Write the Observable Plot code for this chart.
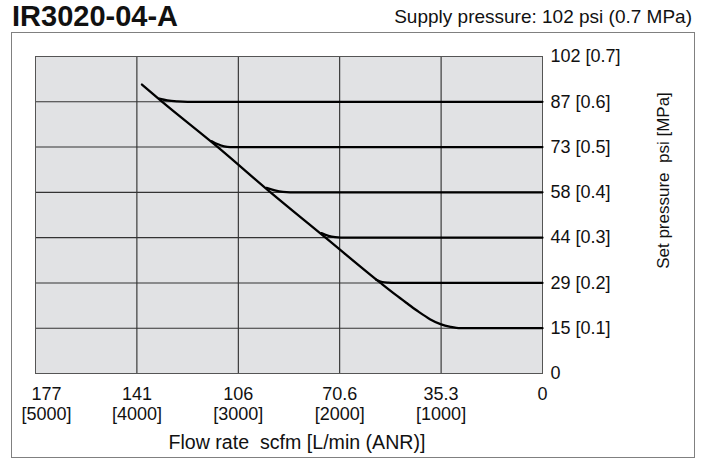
<!DOCTYPE html>
<html><head><meta charset="utf-8">
<script src="https://cdn.jsdelivr.net/npm/d3@7"></script>
<script src="https://cdn.jsdelivr.net/npm/@observablehq/plot@0.6"></script>
<style>
body{margin:0;background:#fff;font-family:"Liberation Sans",Arial,Helvetica,sans-serif;}
#fig{position:relative;width:705px;height:460px;}
#title{position:absolute;left:12px;top:0;font-weight:bold;font-size:29px;line-height:normal;color:#111;white-space:nowrap;}
#supply{position:absolute;right:13px;top:6px;font-size:19px;line-height:normal;color:#111;white-space:nowrap;}
#chart{position:absolute;left:11px;top:32px;border:1px solid #808080;width:682px;height:424px;}
#chart svg{display:block;}
#chart svg text{white-space:pre;}
</style></head>
<body>
<div id="fig">
  <div id="title">IR3020-04-A</div>
  <div id="supply">Supply pressure: 102 psi (0.7 MPa)</div>
  <div id="chart"></div>
</div>
<script>
// ---- data ----
const flowTicks = [5000, 4000, 3000, 2000, 1000, 0];          // L/min (ANR)
const scfmLabels = ["177", "141", "106", "70.6", "35.3", "0"];
const lpmLabels = ["[5000]", "[4000]", "[3000]", "[2000]", "[1000]", ""];
const pressureTicks = [0.7, 0.6, 0.5, 0.4, 0.3, 0.2, 0.1, 0];  // MPa
const pressureLabels = ["102 [0.7]", "87 [0.6]", "73 [0.5]", "58 [0.4]", "44 [0.3]", "29 [0.2]", "15 [0.1]", "0"];
const gridFlow = [4000, 3000, 2000, 1000];
const gridPressure = [0.6, 0.5, 0.4, 0.3, 0.2, 0.1];

// envelope curve (ends in the 0.1 MPa set-pressure line)
const envelopeFlow     = [3950, 3750, 3202, 2682, 2140, 1598, 1450, 1330, 1220, 1110, 1006, 907, 809, 700, 0];
const envelopePressure = [0.638, 0.600, 0.500, 0.400, 0.300, 0.200, 0.174, 0.154, 0.136, 0.120, 0.109, 0.103, 0.100, 0.100, 0.100];

// set-pressure branches
const branchSet = [0.6, 0.5, 0.4, 0.3, 0.2];
const branchFlow = [
  [3780, 3700, 3600, 3500, 0],
  [3262, 3200, 3140, 3080, 0],
  [2722, 2640, 2560, 2490, 0],
  [2180, 2110, 2045, 1990, 0],
  [1640, 1580, 1520, 1470, 0]
];
const branchPressure = [
  [0.607, 0.603, 0.6008, 0.600, 0.600],
  [0.513, 0.506, 0.5015, 0.500, 0.500],
  [0.410, 0.4045, 0.401, 0.400, 0.400],
  [0.310, 0.304, 0.301, 0.300, 0.300],
  [0.207, 0.202, 0.2005, 0.200, 0.200]
];

// ---- tables built from the arrays ----
const envelope = envelopeFlow.map((f, i) => ({flow: f, p: envelopePressure[i]}));
const branches = branchSet.flatMap((s, k) => branchFlow[k].map((f, i) => ({set: s, flow: f, p: branchPressure[k][i]})));
const yLab = pressureTicks.map((p, i) => ({p, label: pressureLabels[i]}));
const xLab = flowTicks.map((f, i) => ({f, scfm: scfmLabels[i], lpm: lpmLabels[i]}));

const font = "'Liberation Sans', Arial, Helvetica, sans-serif";
const chart = Plot.plot({
  width: 682,
  height: 424,
  marginLeft: 23,
  marginRight: 152,
  marginTop: 23,
  marginBottom: 84,
  style: {fontFamily: font, background: "transparent", overflow: "visible"},
  x: {domain: [5000, 0], axis: null},
  y: {domain: [0, 0.7], axis: null},
  marks: [
    Plot.frame({fill: "#e1e2e4", stroke: null}),
    Plot.ruleX(gridFlow, {stroke: "#1a1a1a", strokeWidth: 1}),
    Plot.ruleY(gridPressure, {stroke: "#333", strokeWidth: 1.1}),
    Plot.frame({stroke: "#555", strokeWidth: 1}),
    Plot.line(branches, {x: "flow", y: "p", z: "set", curve: "monotone-x", stroke: "#000", strokeWidth: 2.2}),
    Plot.line(envelope, {x: "flow", y: "p", curve: "monotone-x", stroke: "#000", strokeWidth: 2.3}),
    // y tick labels (right side)
    Plot.text(yLab, {x: () => 0, y: "p", text: "label", textAnchor: "start", lineAnchor: "middle", dx: 8, fontSize: 18, fill: "#111"}),
    // x tick labels, two lines
    Plot.text(xLab.slice(1), {x: "f", y: () => 0, text: "scfm", lineAnchor: "middle", dy: 21, fontSize: 18, fill: "#111"}),
    Plot.text(xLab.slice(1), {x: "f", y: () => 0, text: "lpm", lineAnchor: "middle", dy: 41, fontSize: 18, fill: "#111"}),
    Plot.text(xLab.slice(0, 1), {x: "f", y: () => 0, text: "scfm", lineAnchor: "middle", dy: 21, dx: 11, fontSize: 18, fill: "#111"}),
    Plot.text(xLab.slice(0, 1), {x: "f", y: () => 0, text: "lpm", lineAnchor: "middle", dy: 41, dx: 11, fontSize: 18, fill: "#111"}),
    // axis titles
    Plot.text(["Flow rate  scfm [L/min (ANR)]"], {frameAnchor: "bottom", textAnchor: "middle", lineAnchor: "middle", dx: 8, dy: 69, fontSize: 19.6, fill: "#111"}),
    Plot.text(["Set pressure  psi [MPa]"], {frameAnchor: "top-right", textAnchor: "middle", lineAnchor: "middle", dx: 121, dy: 124, rotate: -90, fontSize: 17, fill: "#111"})
  ]
});
document.getElementById("chart").appendChild(chart);
</script>
</body></html>
